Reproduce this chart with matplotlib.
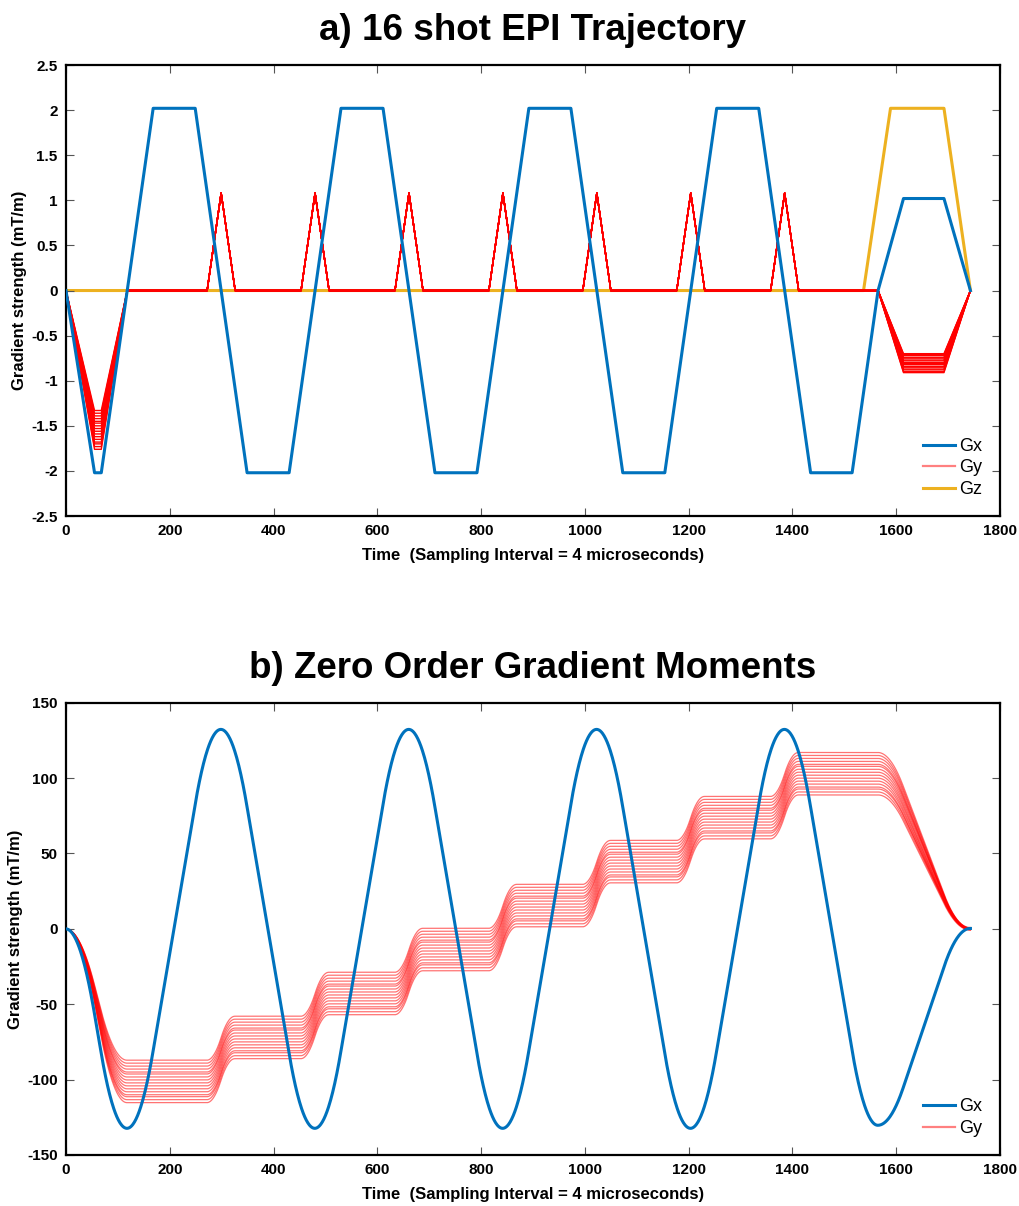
import numpy as np
import matplotlib
matplotlib.use("Agg")
import matplotlib.pyplot as plt
from matplotlib.lines import Line2D
from matplotlib.ticker import FuncFormatter

plt.rcParams['font.family'] = ['Liberation Sans Narrow', 'Liberation Sans', 'DejaVu Sans']

# --- Gradient waveforms (breakpoints in samples, amplitudes in mT/m) ---
gx_t = [0, 55, 68, 168, 249, 349, 430, 530, 611, 711, 792, 892, 973,
        1073, 1154, 1254, 1335, 1435, 1515, 1565, 1614, 1692, 1743]
gx_v = [0, -2.02, -2.02, 2.02, 2.02, -2.02, -2.02, 2.02, 2.02, -2.02, -2.02,
        2.02, 2.02, -2.02, -2.02, 2.02, 2.02, -2.02, -2.02, 0, 1.02, 1.02, 0]

gz_t = [0, 1537, 1589, 1692, 1743]
gz_v = [0, 0, 2.02, 2.02, 0]

# phase-encode blips (centres at the Gx zero crossings)
blip_centres = [299, 480, 661, 842, 1023, 1204, 1385]
blip_half = 27
blip_amp = 1.08

# per-shot prephaser and rewinder amplitudes (16 shots)
gy_pre = [-1.33, -1.36, -1.39, -1.42, -1.45, -1.47, -1.50, -1.53,
          -1.56, -1.59, -1.62, -1.65, -1.68, -1.70, -1.73, -1.76]
gy_rew = [-0.91, -0.90, -0.88, -0.87, -0.85, -0.84, -0.82, -0.81,
          -0.80, -0.78, -0.77, -0.75, -0.74, -0.72, -0.71, -0.70]
pre_t = [0, 55, 68, 118]
rew_t = [1565, 1614, 1692, 1743]

BLUE = '#0072BD'
YELLOW = '#EDB120'
RED = '#FF0000'


def gy_breakpoints(pre_amp, rew_amp):
    t = list(pre_t)
    v = [0, pre_amp, pre_amp, 0]
    for c in blip_centres:
        t += [c - blip_half, c, c + blip_half]
        v += [0, blip_amp, 0]
    t += rew_t
    v += [0, rew_amp, rew_amp, 0]
    return t, v


# sampled waveforms (4 us per sample) and their running sums
samples = np.arange(0, gx_t[-1] + 1)
gx_s = np.interp(samples, gx_t, gx_v)
mx = np.cumsum(gx_s)
gy_shots = [gy_breakpoints(p, r) for p, r in zip(gy_pre, gy_rew)]
my = [np.cumsum(np.interp(samples, t, v)) for t, v in gy_shots]

fig = plt.figure(figsize=(10.2, 12.06), dpi=100)
ax1 = fig.add_axes([0.0647, 0.5721, 0.9157, 0.374])
ax2 = fig.add_axes([0.0647, 0.0423, 0.9157, 0.375])

fmt = FuncFormatter(lambda v, p: f"{v:g}")


def style_axes(ax):
    ax.tick_params(direction='in', top=True, right=True, length=6, width=0.8,
                   color='#555555', pad=6)
    for lab in ax.get_xticklabels() + ax.get_yticklabels():
        lab.set_fontsize(11)
        lab.set_fontweight('bold')
    for sp in ax.spines.values():
        sp.set_linewidth(1.6)
        sp.set_color('black')
    ax.yaxis.set_major_formatter(fmt)
    ax.set_xlabel('Time  (Sampling Interval = 4 microseconds)', fontsize=12,
                  fontweight='bold', labelpad=7)
    ax.set_ylabel('Gradient strength (mT/m)', fontsize=12, fontweight='bold',
                  labelpad=3)


# a) gradient waveforms
for t, v in gy_shots:
    ax1.plot(t, v, color=RED, lw=1.0, zorder=2)
ax1.plot(gx_t, gx_v, color=BLUE, lw=2.2, zorder=3)
ax1.plot(gz_t, gz_v, color=YELLOW, lw=2.2, zorder=1)
ax1.set_xlim(0, 1800)
ax1.set_ylim(-2.5, 2.5)
ax1.set_xticks(np.arange(0, 1801, 200))
ax1.set_yticks(np.arange(-2.5, 2.51, 0.5))
style_axes(ax1)
ax1.set_title('a) 16 shot EPI Trajectory', fontsize=26.5, fontweight='bold', pad=18)
handles = [Line2D([], [], color=BLUE, lw=2.2),
           Line2D([], [], color='#FF8080', lw=1.6),
           Line2D([], [], color=YELLOW, lw=2.2)]
ax1.legend(handles, ['Gx', 'Gy', 'Gz'], loc='lower right', frameon=False,
           fontsize=13, handlelength=1.8, handletextpad=0.2, labelspacing=0.25,
           borderaxespad=0.6)

# b) zero order moments
for m in my:
    ax2.plot(samples, m, color=RED, lw=0.9, alpha=0.55, zorder=2)
ax2.plot(samples, mx, color=BLUE, lw=2.2, zorder=3)
ax2.set_xlim(0, 1800)
ax2.set_ylim(-150, 150)
ax2.set_xticks(np.arange(0, 1801, 200))
ax2.set_yticks(np.arange(-150, 151, 50))
style_axes(ax2)
ax2.set_title('b) Zero Order Gradient Moments', fontsize=26.5, fontweight='bold', pad=18)
ax2.legend(handles[:2], ['Gx', 'Gy'], loc='lower right', frameon=False,
           fontsize=13, handlelength=1.8, handletextpad=0.2, labelspacing=0.25,
           borderaxespad=0.6)

fig.savefig('out.png', dpi=100)
